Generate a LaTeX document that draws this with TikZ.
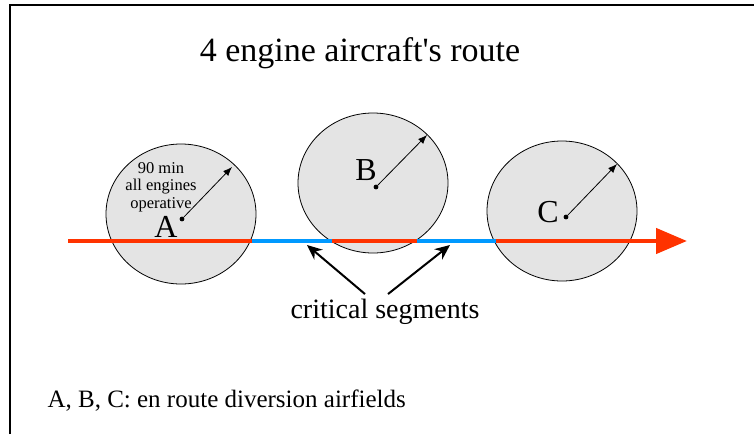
\documentclass[tikz,border=0pt]{standalone}
\usepackage{fontspec}
\setmainfont{Liberation Serif}[Ligatures=TeXOff]
\usetikzlibrary{arrows.meta, shapes.geometric}

\definecolor{routered}{RGB}{255,51,0}
\definecolor{routeblue}{RGB}{0,153,255}
\definecolor{fieldgray}{RGB}{228,228,228}

\tikzset{
  airfield/.style={ellipse, draw=black, line width=0.8pt, fill=fieldgray,
    minimum width=150pt, minimum height=140pt, inner sep=0pt},
  centerdot/.style={circle, fill=black, inner sep=1.7pt},
  fieldname/.style={font=\fontsize{32}{36}\selectfont, inner sep=0pt},
  rangearrow/.style={line width=0.8pt, -{Latex[length=9pt, width=7pt]}},
  redleg/.style={routered, line width=4.5pt},
  blueleg/.style={routeblue, line width=4.5pt},
  pointer/.style={line width=2pt, -{Stealth[length=15pt, width=13pt]}}
}

\begin{document}
\begin{tikzpicture}[x=1pt, y=-1pt]
  \useasboundingbox (0,0) rectangle (754,434);
  % frame
  \draw[line width=1.6pt] (10,434) -- (10,5) -- (754,5);

  % title
  \node[anchor=base, font=\fontsize{34}{40}\selectfont] (title) at (360,61)
    {4 engine aircraft's route};

  % diversion airfields with their range circles
  \foreach \name/\cx/\cy/\dx/\dy/\tx/\ty in {
      A/181/214/182/219/232/167,
      B/373/183/376/187/427/135,
      C/562/211/566/217/617/164} {
    \node[airfield] (f\name) at (\cx,\cy) {};
    \node[centerdot] (d\name) at (\dx,\dy) {};
    \coordinate (r\name) at (\tx,\ty);
    \draw[rangearrow] (d\name) -- (r\name);
  }
  \node[fieldname] (lA) at (166,227) {A};
  \node[fieldname] (lB) at (366,170) {B};
  \node[fieldname] (lC) at (548,212) {C};
  \node[align=center, inner sep=0pt, font=\fontsize{16.5}{17.5}\selectfont]
    (range) at (161,187) {90 min\\all engines\\operative};

  % route legs
  \coordinate (p0) at (68,241);
  \coordinate (p1) at (252,241);
  \coordinate (p2) at (332,241);
  \coordinate (p3) at (417,241);
  \coordinate (p4) at (496,241);
  \coordinate (p5) at (687,241);
  \draw[redleg] (p0) -- (p1);
  \draw[blueleg] (p1) -- (p2);
  \draw[redleg] (p2) -- (p3);
  \draw[blueleg] (p3) -- (p4);
  \draw[redleg, -{Triangle[length=31pt, width=25pt]}] (p4) -- (p5);

  % critical segments
  \node[anchor=base, font=\fontsize{28}{32}\selectfont] (crit) at (385,318)
    {critical segments};
  \coordinate (c1) at (307,245);
  \coordinate (c2) at (450,245);
  \draw[pointer] ([xshift=-20pt, yshift=1pt]crit.north) -- (c1);
  \draw[pointer] ([xshift=3pt, yshift=1pt]crit.north) -- (c2);

  % legend
  \node[anchor=base west, font=\fontsize{25}{30}\selectfont] (legend) at (44,407)
    {A, B, C: en route diversion airfields};
\end{tikzpicture}
\end{document}
